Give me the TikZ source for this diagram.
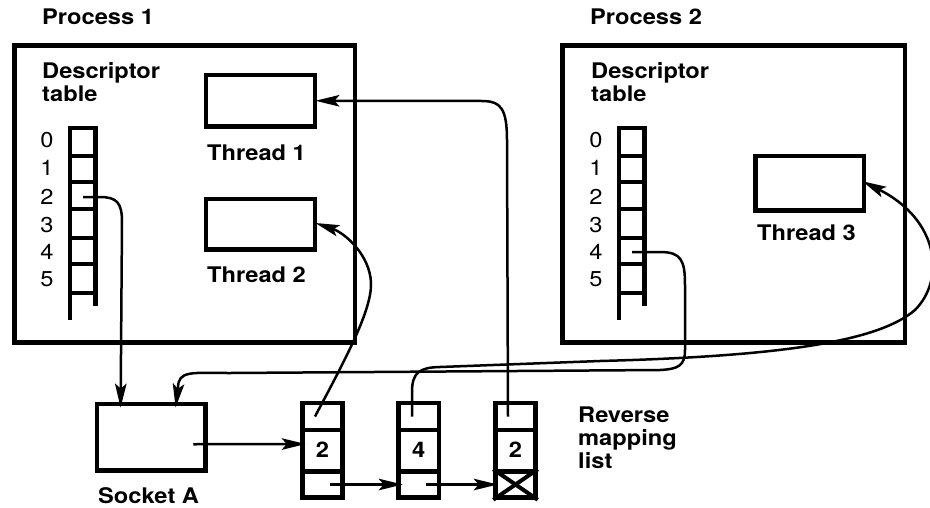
\documentclass[tikz,border=0pt]{standalone}
\usepackage{fontspec}
\setmainfont{TeX Gyre Heros}[FakeStretch=1.1]
\usetikzlibrary{arrows.meta,calc}
\tikzset{
  lbl/.style={inner sep=0pt, anchor=base west, font=\fontsize{21.5pt}{24pt}\selectfont\bfseries},
  digit/.style={inner sep=0pt, anchor=center, font=\fontsize{21.5pt}{24pt}\selectfont},
  bigbox/.style={draw, line width=4.8pt, inner sep=0pt},
  cell/.style={draw, line width=4.5pt, inner sep=0pt, minimum width=40pt, font=\fontsize{21.5pt}{24pt}\selectfont\bfseries},
  rail/.style={line width=4.6pt},
  rung/.style={line width=4pt},
  conn/.style={line width=2.5pt},
  arr/.style={conn, -{Stealth[length=24pt, width=11.5pt, inset=5pt]}}
}
\begin{document}
\begin{tikzpicture}[x=1pt,y=-1pt]
\useasboundingbox (0,0) rectangle (930,507);
% processes
\node[bigbox, minimum width=340.5pt, minimum height=297pt] (proc1) at (184.75,194) {};
\node[bigbox, minimum width=342.5pt, minimum height=297pt] (proc2) at (733.75,194) {};
\node[lbl] (proc1lbl) at (42,24) {Process 1};
\node[lbl] (proc2lbl) at (590,24) {Process 2};
\node[lbl] (dt1a) at (42,78.5) {Descriptor};
\node[lbl] (dt1b) at (42,101) {table};
\node[lbl] (dt2a) at (591,78.5) {Descriptor};
\node[lbl] (dt2b) at (591,101) {table};
% threads
\node[bigbox, minimum width=109pt, minimum height=51.5pt] (t1) at (260.5,100.75) {};
\node[bigbox, minimum width=109pt, minimum height=50.5pt] (t2) at (260.5,224.25) {};
\node[bigbox, minimum width=108.5pt, minimum height=54.5pt] (t3) at (809.75,183.25) {};
\node[lbl] (t1lbl) at (207,160.7) {Thread 1};
\node[lbl] (t2lbl) at (207,282.7) {Thread 2};
\node[lbl] (t3lbl) at (757,240.7) {Thread 3};
% ladders
\foreach \L/\R/\D in {70/95.5/47, 619/644.5/596}{
  \draw[rail] (\L,126) -- (\L,320);
  \draw[rail] (\R,126) -- (\R,306);
  \foreach \y in {128.3,155.7,181.7,209.3,237.7,264,292.7}{
    \draw[rung] (\L,\y) -- (\R,\y);
  }
  \foreach \n/\y in {0/140,1/168,2/197,3/225,4/252,5/279}{
    \node[digit] at (\D,\y) {\n};
  }
}
\coordinate (p1fd2) at (83,197);
\coordinate (p2fd4) at (632,252);
% socket
\node[bigbox, minimum width=108.5pt, minimum height=66.5pt] (sock) at (151.25,437.25) {};
\node[lbl] (socklbl) at (98,503) {Socket A};
% reverse mapping list
\foreach \i/\x/\w/\v in {1/322.5/40/2, 2/418.75/40.5/4, 3/515.5/40/2}{
  \node[cell, minimum width=\w pt, minimum height=27pt] (n\i t) at (\x,416.5) {};
  \node[cell, minimum width=\w pt, minimum height=41.5pt] (n\i m) at (\x,450.75) {\raisebox{2pt}{\v}};
  \node[cell, minimum width=\w pt, minimum height=26pt] (n\i b) at (\x,484.5) {};
}
\draw[line width=4pt] (n3b.north west) -- (n3b.south east);
\draw[line width=4pt] (n3b.north east) -- (n3b.south west);
\node[lbl] (rml1) at (578,422) {Reverse};
\node[lbl] (rml2) at (578,445) {mapping};
\node[lbl] (rml3) at (578,468) {list};
% connectors
\draw[arr] (p1fd2) -- (100,197) .. controls (117,197) and (122,203) .. (122,222) -- ($(sock.north west)+(26,6)$);
\draw[arr] (p2fd4) -- (660,252) .. controls (681,252) and (685,260) .. (685,285) -- (685,350) .. controls (685,366) and (678,369) .. (660,370) -- (230,373) .. controls (192,373) and (178,370) .. (178,388) -- ($(sock.north west)+(81,6)$);
\draw[arr] ($(sock.center)+(42,7)$) -- ($(n1m.west)+(5.5,-6.75)$);
\draw[arr] ($(n1b.center)+(7.5,0)$) -- ($(n2b.west)+(6.5,0)$);
\draw[arr] ($(n2b.center)+(7.25,0)$) -- ($(n3b.west)+(4.5,0)$);
\draw[arr] ($(n1t.center)+(-7.5,0)$) .. controls (345,360) and (372,310) .. (371,283) .. controls (370,255) and (345,233) .. ($(t2.east)+(-2,-1.25)$);
\draw[arr] ($(n3t.center)+(-7.5,0)$) -- (507,140) .. controls (507,108) and (500,102) .. (485,101) -- ($(t1.east)+(-2,0)$);
\draw[arr] ($(n2t.center)+(-6.75,0)$) -- (412,392) .. controls (412,372) and (420,367.5) .. (440,367) -- (600,361) .. controls (790,356) and (880,340) .. (915,310) .. controls (945,280) and (940,220) .. ($(t3.east)+(-4,-2)$);
\end{tikzpicture}
\end{document}
